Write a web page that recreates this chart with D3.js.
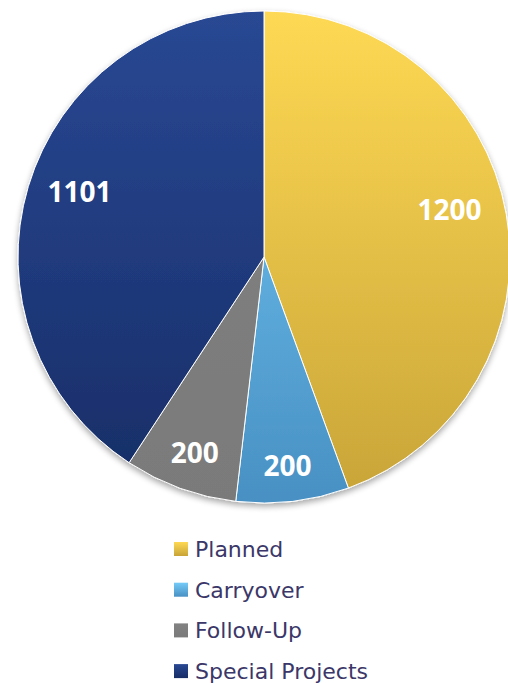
<!DOCTYPE html>
<html><head><meta charset="utf-8">
<script src="https://cdn.jsdelivr.net/npm/d3@7"></script>
<style>body{margin:0;background:#fff}svg{display:block}</style>
</head><body>
<script>
const categories = ["Planned", "Carryover", "Follow-Up", "Special Projects"];
const values = [1200, 200, 200, 1101];
const colorsTop = ["#FED954", "#75CBF8", "#828282", "#294893"];
const colorsBottom = ["#C8A438", "#4890C3", "#7A7A7A", "#172D66"];

const W = 508, H = 683, cx = 264, cy = 257, R = 246;
const svg = d3.select("body").append("svg").attr("width", W).attr("height", H);
const defs = svg.append("defs");
categories.forEach((c, i) => {
  const g = defs.append("linearGradient").attr("id", "g" + i)
    .attr("gradientUnits", "userSpaceOnUse")
    .attr("x1", 0).attr("y1", -R).attr("x2", 0).attr("y2", R);
  g.append("stop").attr("offset", "0%").attr("stop-color", colorsTop[i]);
  g.append("stop").attr("offset", "100%").attr("stop-color", colorsBottom[i]);
  const lg = defs.append("linearGradient").attr("id", "lg" + i)
    .attr("x1", 0).attr("y1", 0).attr("x2", 0).attr("y2", 1);
  lg.append("stop").attr("offset", "0%").attr("stop-color", colorsTop[i]);
  lg.append("stop").attr("offset", "100%").attr("stop-color", colorsBottom[i]);
});
const f = defs.append("filter").attr("id", "sh").attr("x", "-10%").attr("y", "-10%").attr("width", "120%").attr("height", "125%");
f.append("feGaussianBlur").attr("in", "SourceAlpha").attr("stdDeviation", 3);
f.append("feOffset").attr("dy", 3).attr("result", "b");
f.append("feComponentTransfer").append("feFuncA").attr("type", "linear").attr("slope", 0.35);
const m = f.append("feMerge"); m.append("feMergeNode"); m.append("feMergeNode").attr("in", "SourceGraphic");

const pie = d3.pie().sort(null).value(d => d)(values);
const arc = d3.arc().innerRadius(0).outerRadius(R);
const gPie = svg.append("g").attr("transform", `translate(${cx},${cy})`).attr("filter", "url(#sh)");
gPie.selectAll("path").data(pie).join("path")
  .attr("d", arc)
  .attr("fill", (d, i) => `url(#g${i})`)
  .attr("stroke", "#fff").attr("stroke-width", 1);

// label placement: radius fraction and small angular shift (degrees), like Excel best-fit
const labelR = [0.778, 0.855, 0.845, 0.795];
const labelShift = [-4.2, 0.3, -0.5, 2.7];
svg.append("g").attr("transform", `translate(${cx},${cy})`)
  .selectAll("text").data(pie).join("text")
  .attr("transform", (d, i) => {
    const a = (d.startAngle + d.endAngle) / 2 + labelShift[i] * Math.PI / 180, r = R * labelR[i];
    return `translate(${r * Math.sin(a)},${-r * Math.cos(a)})`;
  })
  .attr("text-anchor", "middle").attr("dy", "0.36em")
  .attr("fill", "#fff").attr("font-family", "'Open Sans', 'Liberation Sans', Arial, sans-serif")
  .attr("font-weight", "bold").attr("font-size", 28)
  .text(d => d.data);

const lg = svg.append("g").attr("transform", "translate(174,549)");
categories.forEach((c, i) => {
  const row = lg.append("g").attr("transform", `translate(0,${i * 40.7})`);
  row.append("rect").attr("x", 0).attr("y", -7).attr("width", 14).attr("height", 14).attr("fill", `url(#lg${i})`);
  row.append("text").attr("x", 21).attr("y", 0).attr("dy", "0.36em")
    .attr("font-family", "'DejaVu Sans', Verdana, sans-serif").attr("font-size", 22)
    .attr("fill", "#3B3768").text(c);
});
</script>
</body></html>
